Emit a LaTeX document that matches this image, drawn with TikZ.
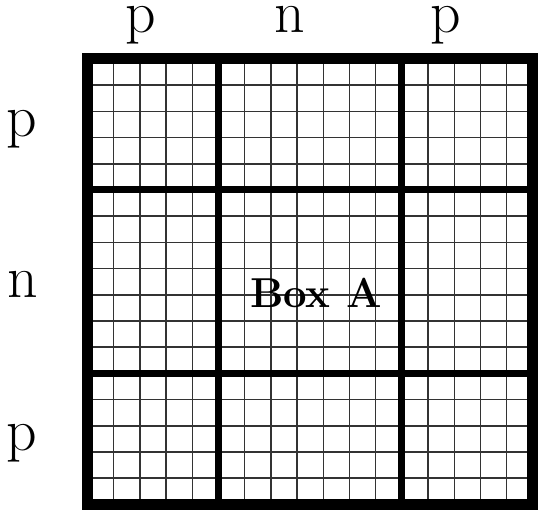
\documentclass[tikz,border=0pt]{standalone}
\begin{document}
\begin{tikzpicture}[x=1bp,y=-1bp,
  fine/.style={line width=1.5bp,black!80},
  thick/.style={line width=7bp,black},
  frame/.style={line width=11bp,black,line join=miter},
  lab/.style={anchor=base,inner sep=0pt,font=\fontsize{60}{60}\selectfont},
  boxlab/.style={anchor=base,inner sep=0pt,font=\fontsize{42}{42}\selectfont\bfseries}]
\useasboundingbox (0,0) rectangle (538,511);
\def\c{26.2}
\def\L{87.5}
\def\T{59}
% fine grid
\foreach \i in {1,...,16} {
  \draw[fine] (\L+\i*\c,\T) -- (\L+\i*\c,\T+17*\c);
  \draw[fine] (\L,\T+\i*\c) -- (\L+17*\c,\T+\i*\c);
}
% thick inner lines
\foreach \i in {5,12} {
  \draw[thick] (\L+\i*\c,\T) -- (\L+\i*\c,\T+17*\c);
  \draw[thick] (\L,\T+\i*\c) -- (\L+17*\c,\T+\i*\c);
}
% frame
\draw[frame] (\L,\T) rectangle (\L+17*\c,\T+17*\c);
% labels
\node[lab] (t1) at (141,33) {p};
\node[lab] (t2) at (290,33) {n};
\node[lab] (t3) at (446,33) {p};
\node[lab] (l1) at (22,137) {p};
\node[lab] (l2) at (23,297) {n};
\node[lab] (l3) at (22,450) {p};
\node[boxlab] (boxa) at (316,307) {Box A};
\end{tikzpicture}
\end{document}
